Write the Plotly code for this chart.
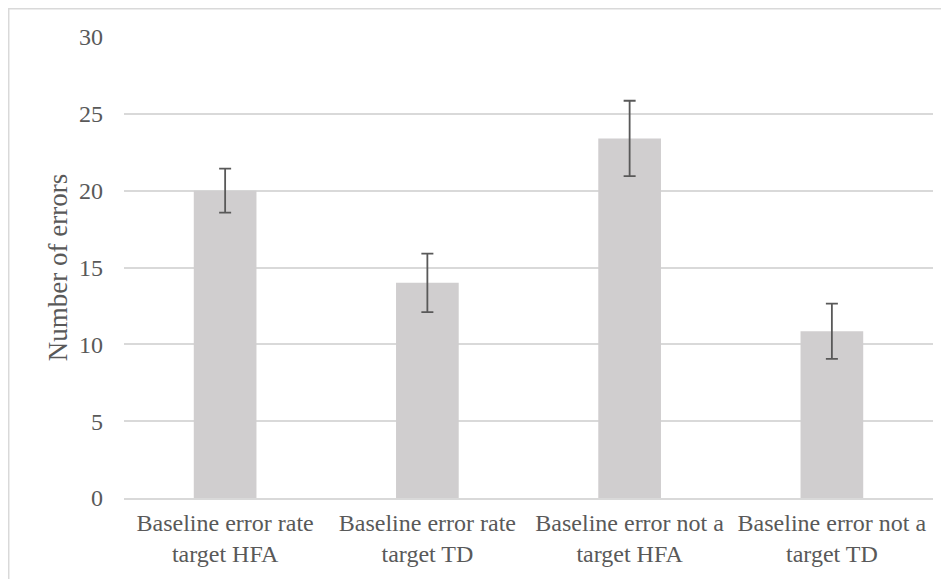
import plotly.graph_objects as go

categories = ["Baseline error rate<br>target HFA", "Baseline error rate<br>target TD",
              "Baseline error not a<br>target HFA", "Baseline error not a<br>target TD"]
means = [20.0, 14.0, 23.4, 10.85]
errors = [1.43, 1.9, 2.45, 1.8]
y_ticks = [0, 5, 10, 15, 20, 25, 30]

text_color = "#595959"
font_family = "Liberation Serif, Times New Roman, serif"

fig = go.Figure(go.Bar(
    x=categories, y=means,
    marker=dict(color="#d0cecf", line=dict(width=0)),
    error_y=dict(type="data", array=errors, visible=True, color="#595959", thickness=1.8, width=6),
))

fig.update_layout(
    width=941, height=571,
    margin=dict(l=116, r=16, t=29, b=81),
    paper_bgcolor="white", plot_bgcolor="white",
    bargap=0.69,
    showlegend=False,
    font=dict(family=font_family, color=text_color, size=24),
    xaxis=dict(showgrid=False, showline=True, linecolor="#d9d9d9", linewidth=1.5,
               tickfont=dict(size=24, color=text_color), ticks="", ticklabelstandoff=2),
    yaxis=dict(range=[0, 30], tickvals=y_ticks, showgrid=True, gridcolor="#d9d9d9", gridwidth=1.5,
               zeroline=False, showline=False, ticks="", ticklabelstandoff=20,
               tickfont=dict(size=24, color=text_color),
               title=dict(text="Number of errors", font=dict(size=27, color=text_color), standoff=3)),
    shapes=[dict(type="rect", xref="paper", yref="paper", x0=-0.1425, x1=1.05, y0=-0.3, y1=1.0613,
                 line=dict(color="#d9d9d9", width=1.5), fillcolor="rgba(0,0,0,0)", layer="below")],
)

fig.write_html("out.html")
